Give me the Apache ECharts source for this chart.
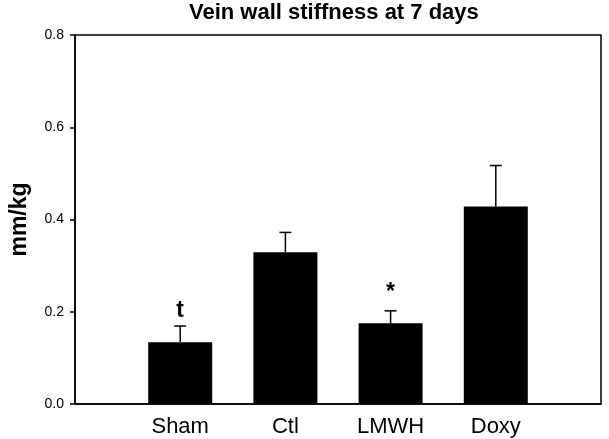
<!DOCTYPE html>
<html>
<head>
<meta charset="utf-8">
<script src="https://cdn.jsdelivr.net/npm/echarts@6/dist/echarts.min.js"></script>
<style>html,body{margin:0;padding:0;background:#fff}#c{width:609px;height:439px}</style>
</head>
<body>
<div id="c"></div>
<script>
var categories = ['Sham', 'Ctl', 'LMWH', 'Doxy'];
var means = [0.134, 0.329, 0.175, 0.428];
var errors = [0.035, 0.043, 0.027, 0.089];
var marks = ['t', '', '*', ''];
var yTicks = [0, 0.2, 0.4, 0.6, 0.8];

var xData = [''].concat(categories).concat(['']);
var barData = [null].concat(means).concat([null]);
var errData = categories.map(function (c, i) { return [i + 1, means[i], errors[i]]; });

var chart = echarts.init(document.getElementById('c'), null, {renderer: 'canvas'});
var FONT = 'Liberation Sans, Arial, sans-serif';
chart.setOption({
  animation: false,
  backgroundColor: '#fff',
  title: {
    text: 'Vein wall stiffness at 7 days',
    left: 184,
    top: -3,
    textStyle: {fontFamily: FONT, fontWeight: 'bold', fontSize: 22, color: '#000'}
  },
  grid: {left: 74, right: 8, top: 35, bottom: 35, show: true, borderColor: '#000', borderWidth: 1.5, backgroundColor: 'transparent'},
  xAxis: {
    type: 'category',
    data: xData,
    boundaryGap: false,
    axisLine: {lineStyle: {color: '#000', width: 1.5}},
    axisTick: {show: false},
    axisLabel: {color: '#000', fontFamily: FONT, fontSize: 22, margin: 12, interval: 0},
    splitLine: {show: false}
  },
  yAxis: {
    type: 'value',
    min: yTicks[0],
    max: yTicks[yTicks.length - 1],
    interval: 0.2,
    name: 'mm/kg',
    nameLocation: 'middle',
    nameGap: 44,
    nameRotate: 90,
    nameTextStyle: {fontFamily: FONT, fontWeight: 'bold', fontSize: 23, color: '#000'},
    axisLine: {show: true, lineStyle: {color: '#000', width: 1.5}},
    axisTick: {show: true, length: 5, lineStyle: {color: '#000', width: 1.5}},
    axisLabel: {color: '#000', fontFamily: FONT, fontSize: 14, margin: 11, formatter: function (v) { return v.toFixed(1); }},
    splitLine: {show: false}
  },
  series: [
    {
      type: 'bar',
      data: barData,
      barWidth: 64,
      itemStyle: {color: '#000'}
    },
    {
      type: 'custom',
      data: errData,
      z: 5,
      renderItem: function (params, api) {
        var x = api.value(0);
        var m = api.value(1);
        var e = api.value(2);
        var mk = marks[params.dataIndex];
        var p0 = api.coord([x, m]);
        var p1 = api.coord([x, m + e]);
        var cap = 6;
        var children = [
          {type: 'line', shape: {x1: p0[0], y1: p0[1], x2: p1[0], y2: p1[1]}, style: {stroke: '#000', lineWidth: 1.5}},
          {type: 'line', shape: {x1: p1[0] - cap, y1: p1[1], x2: p1[0] + cap, y2: p1[1]}, style: {stroke: '#000', lineWidth: 1.5}}
        ];
        if (mk) {
          children.push({type: 'text', style: {text: mk, x: p1[0], y: p1[1] - (mk === '*' ? 7 : 4), align: 'center', verticalAlign: 'bottom', font: 'bold 23px ' + FONT, fill: '#000'}});
        }
        return {type: 'group', children: children};
      }
    }
  ]
});
</script>
</body>
</html>
